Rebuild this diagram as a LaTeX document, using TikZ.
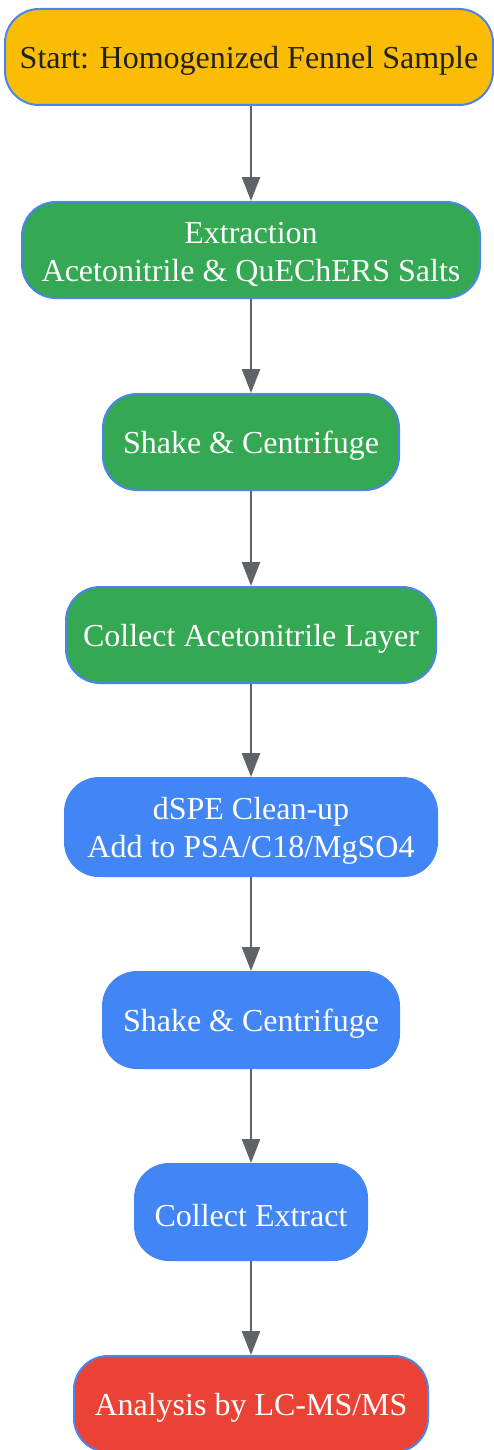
\documentclass[tikz,border=0pt]{standalone}
\usepackage{fontspec}
\setmainfont{Liberation Serif}
\usetikzlibrary{arrows.meta}
\definecolor{startcol}{HTML}{FBBC05}
\definecolor{extcol}{HTML}{34A853}
\definecolor{cleancol}{HTML}{4285F4}
\definecolor{endcol}{HTML}{EA4335}
\definecolor{rimcol}{HTML}{4A86E8}
\definecolor{flowcol}{HTML}{5F6368}
\definecolor{darktext}{HTML}{202124}
\newcommand{\topgap}{\rule{0pt}{15pt}}
\begin{document}
\begin{tikzpicture}[x=0.5pt,y=-0.5pt]
\tikzstyle{every node}+=[inner sep=0pt, align=center, font=\fontsize{16}{19}\selectfont]
\tikzstyle{stepbox}=[draw=rimcol, line width=1pt, rounded corners=17pt, minimum height=48pt, text=white]
\tikzstyle{flow}=[draw=flowcol, line width=1.2pt, -{Triangle[length=12pt,width=9pt]}]
\useasboundingbox (0,0) rectangle (493,1450);
\node [stepbox, fill=startcol, text=darktext, minimum width=244pt] (start) at (249,57) {\topgap Start: Homogenized Fennel Sample};
\node [stepbox, fill=extcol, minimum width=229pt] (extract) at (251,250) {\topgap Extraction\\Acetonitrile \& QuEChERS Salts};
\node [stepbox, fill=extcol, minimum width=148pt] (shakeA) at (251,442) {\topgap Shake \& Centrifuge};
\node [stepbox, fill=extcol, minimum width=185pt] (collect) at (251,635) {\topgap Collect Acetonitrile Layer};
\node [stepbox, fill=cleancol, draw=cleancol, minimum width=186pt, minimum height=49pt] (dspe) at (251,827) {\topgap dSPE Clean-up\\Add to PSA/C18/MgSO4};
\node [stepbox, fill=cleancol, draw=cleancol, minimum width=148pt] (shakeB) at (251,1020) {\topgap Shake \& Centrifuge};
\node [stepbox, fill=cleancol, draw=cleancol, minimum width=116pt] (extr) at (251,1212) {\topgap Collect Extract};
\node [stepbox, fill=endcol, minimum width=177pt] (lcms) at (251,1404) {\topgap Analysis by LC-MS/MS};
\draw [flow] (start.south -| extract) -- (extract);
\draw [flow] (extract) -- (shakeA);
\draw [flow] (shakeA) -- (collect);
\draw [flow] (collect) -- (dspe);
\draw [flow] (dspe) -- (shakeB);
\draw [flow] (shakeB) -- (extr);
\draw [flow] (extr) -- (lcms);
\end{tikzpicture}
\end{document}
